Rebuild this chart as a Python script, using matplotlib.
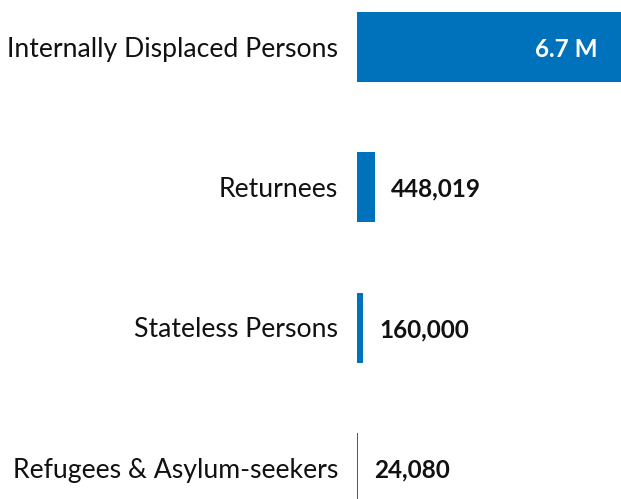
import matplotlib.pyplot as plt
from matplotlib import transforms

categories = ["Internally Displaced Persons", "Returnees", "Stateless Persons", "Refugees & Asylum-seekers"]
values = [6700000, 448019, 160000, 24080]
value_labels = ["6.7 M", "448,019", "160,000", "24,080"]

plt.rcParams['font.family'] = ['Lato', 'DejaVu Sans']

fig = plt.figure(figsize=(6.21, 4.99), dpi=100)
ax = fig.add_axes([357 / 621, 0, 264 / 621, 1])

pos = list(range(len(categories)))
ax.barh(pos, values, height=0.5, color='#0072BC')
ax.set_xlim(0, max(values))
ax.set_ylim(3.22, -0.335)
ax.axis('off')

# category labels to the left of the bars
left = transforms.offset_copy(ax.transData, fig=fig, x=-19, y=-2, units='dots')
for p, c in zip(pos, categories):
    ax.text(0, p, c, transform=left, ha='right', va='center', fontsize=19.2, color='#111111')

# value labels: inside the big bar, outside the small ones
inside = transforms.offset_copy(ax.transData, fig=fig, x=-23, y=-2, units='dots')
outside = transforms.offset_copy(ax.transData, fig=fig, x=16, y=-2, units='dots')
for p, v, lab in zip(pos, values, value_labels):
    if v > max(values) * 0.5:
        ax.text(v, p, lab, transform=inside, ha='right', va='center', fontsize=17.5,
                fontweight='bold', color='white')
    else:
        ax.text(v, p, lab, transform=outside, ha='left', va='center', fontsize=17.5,
                fontweight='bold', color='#111111')

fig.savefig('out.png', dpi=100)
